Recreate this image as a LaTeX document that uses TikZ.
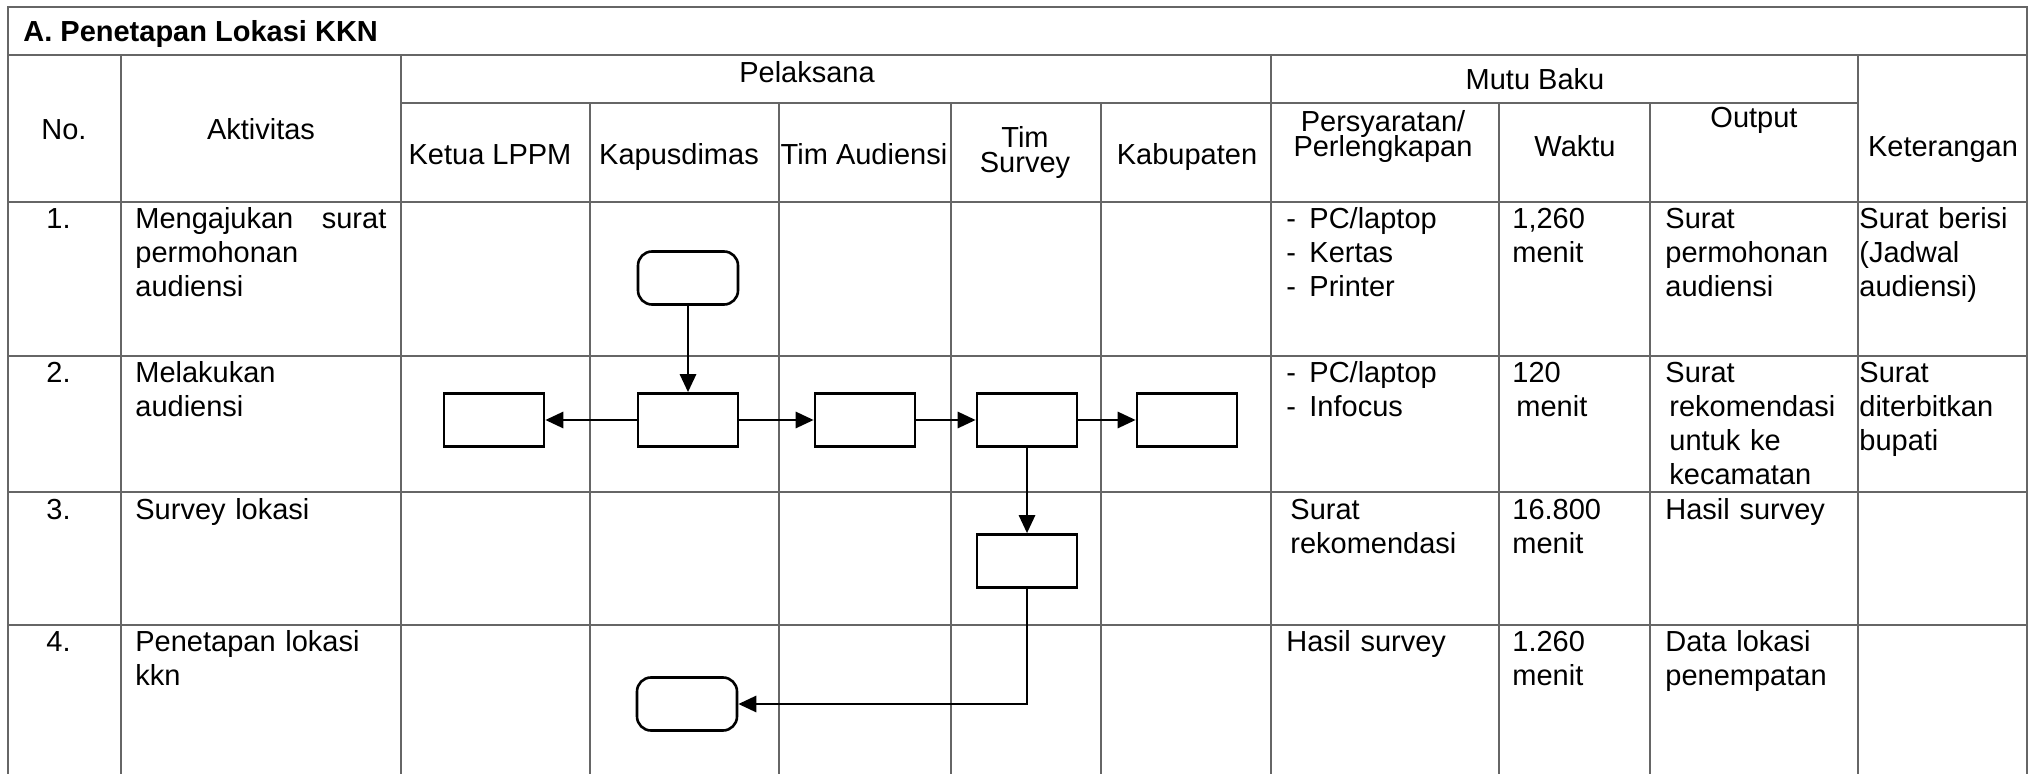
\documentclass[tikz,border=0pt]{standalone}
\usepackage{fontspec}
\setmainfont{Liberation Sans}
\usetikzlibrary{arrows.meta}

\newcommand{\dashitem}{\makebox[11.5pt][l]{-}}
\newcommand{\bodyfont}{\fontsize{14.5}{17}\selectfont\lineskiplimit=-20pt\relax}
\newcommand{\headfont}{\fontsize{14.5}{12.5}\selectfont\lineskiplimit=-20pt\relax}

\begin{document}
\begin{tikzpicture}[x=0.5pt, y=-0.5pt,
    font=\bodyfont,
    grid/.style={draw=black!60, line width=0.8pt},
    head/.style={anchor=base, inner sep=0pt, align=center},
    headtwo/.style={head, font=\headfont},
    cell/.style={anchor=base west, inner sep=0pt, align=left},
    actbox/.style={draw, line width=1.3pt, minimum width=50pt, minimum height=26.5pt, inner sep=0pt},
    term/.style={actbox, rounded corners=7pt},
    flow/.style={line width=1.4pt, -{Triangle[length=9pt, width=8pt]}}]
    \useasboundingbox (0,0) rectangle (2029,774);

    % table
    \draw[grid] (8,774) -- (8,7) -- (2027,7) -- (2027,774);
    \foreach \y in {55,202,356,492,625}
      \draw[grid] (8,\y) -- (2027,\y);
    \draw[grid] (401,103) -- (1858,103);
    \foreach \x in {121,401,1271,1858}
      \draw[grid] (\x,55) -- (\x,774);
    \foreach \x in {590,779,951,1101,1499,1650}
      \draw[grid] (\x,103) -- (\x,774);

    \node[anchor=base west, inner sep=0pt, font=\bodyfont\bfseries] (title) at (23,42) {A. Penetapan Lokasi KKN};

    % header
    \node[head] (hno) at (64,140) {No.};
    \node[head] (hakt) at (261,140) {Aktivitas};
    \node[head] (hpel) at (807,83) {Pelaksana};
    \node[head] (hmutu) at (1535,90) {Mutu Baku};
    \node[head] (hketua) at (490,165) {Ketua LPPM};
    \node[head] (hkap) at (679,165) {Kapusdimas};
    \node[head] (haud) at (864,165) {Tim Audiensi};
    \node[headtwo] (hsurv) at (1025,173) {Tim\\Survey};
    \node[head] (hkab) at (1187,165) {Kabupaten};
    \node[headtwo] (hpers) at (1383,157) {Persyaratan/\\Perlengkapan};
    \node[head] (hwak) at (1575,157) {Waktu};
    \node[head] (hout) at (1754,128) {Output};
    \node[head] (hket) at (1943,157) {Keterangan};

    % rows
    \foreach \n/\y in {1/229, 2/383, 3/520, 4/652}
      \node[cell] (no\n) at (46,\y) {\n.};

    \node[cell, text width=125.5pt] (akt1) at (135,229) {Mengajukan\hfill surat\\permohonan\\audiensi};
    \node[cell, text width=105pt] (per1) at (1286,229) {\dashitem PC/laptop\\\dashitem Kertas\\\dashitem Printer};
    \node[cell, text width=65pt] (wak1) at (1512,229) {1,260\\menit};
    \node[cell, text width=95pt] (out1) at (1665,229) {Surat\\permohonan\\audiensi};
    \node[cell, text width=84pt] (ket1) at (1859,229) {Surat berisi\\(Jadwal\\audiensi)};

    \node[cell, text width=125.5pt] (akt2) at (135,383) {Melakukan\\audiensi};
    \node[cell, text width=105pt] (per2) at (1286,383) {\dashitem PC/laptop\\\dashitem Infocus};
    \node[cell, text width=65pt] (wak2) at (1512,383) {120\\\hspace*{2pt}menit};
    \node[cell, text width=95pt] (out2) at (1665,383) {Surat\\\hspace*{2pt}rekomendasi\\\hspace*{2pt}untuk ke\\\hspace*{2pt}kecamatan};
    \node[cell, text width=84pt] (ket2) at (1859,383) {Surat\\diterbitkan\\bupati};

    \node[cell, text width=125.5pt] (akt3) at (135,520) {Survey lokasi};
    \node[cell, text width=105pt] (per3) at (1290,520) {Surat\\rekomendasi};
    \node[cell, text width=65pt] (wak3) at (1512,520) {16.800\\menit};
    \node[cell, text width=95pt] (out3) at (1665,520) {Hasil survey};

    \node[cell, text width=125.5pt] (akt4) at (135,652) {Penetapan lokasi\\kkn};
    \node[cell, text width=105pt] (per4) at (1286,652) {Hasil survey};
    \node[cell, text width=65pt] (wak4) at (1512,652) {1.260\\menit};
    \node[cell, text width=95pt] (out4) at (1665,652) {Data lokasi\\penempatan};

    % flow
    \node[term] (start) at (688,278) {};
    \node[actbox] (kap) at (688,420) {};
    \node[actbox] (ketua) at (494,420) {};
    \node[actbox] (aud) at (865,420) {};
    \node[actbox] (surv) at (1027,420) {};
    \node[actbox] (kab) at (1187,420) {};
    \node[actbox] (cek) at (1027,561) {};
    \node[term] (finish) at (687,704) {};

    \draw[flow] (start) -- (kap);
    \draw[flow] (kap) -- (ketua);
    \draw[flow] (kap) -- (aud);
    \draw[flow] (aud) -- (surv);
    \draw[flow] (surv) -- (kab);
    \draw[flow] (surv) -- (cek);
    \draw[flow] (cek.south) |- (finish.east);
\end{tikzpicture}
\end{document}
